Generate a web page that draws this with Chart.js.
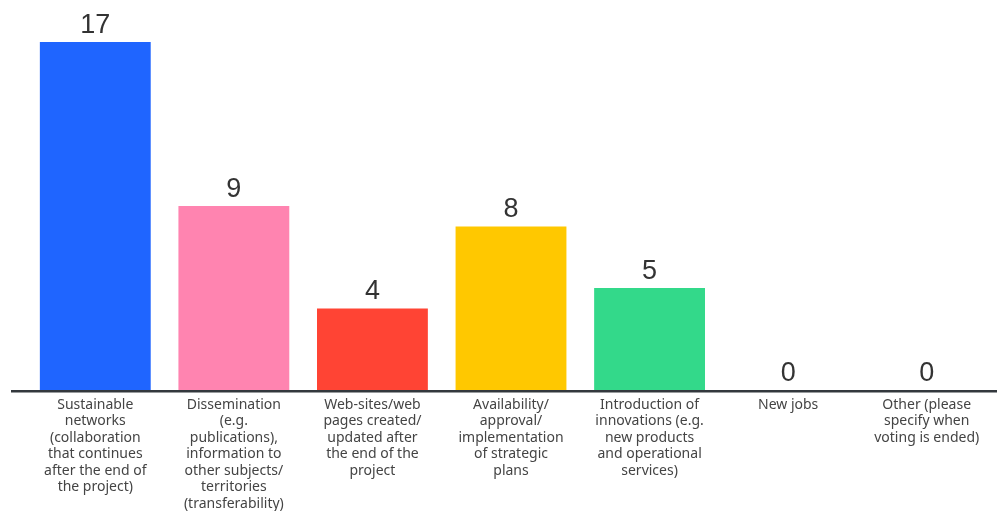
<!DOCTYPE html>
<html>
<head>
<meta charset="utf-8">
<style>
  html, body { margin: 0; padding: 0; background: #fff; }
  #wrap { width: 997px; height: 511px; }
</style>
<script src="https://cdn.jsdelivr.net/npm/chart.js@4/dist/chart.umd.min.js"></script>
</head>
<body>
<div id="wrap"><canvas id="resultsChart" width="997" height="511"></canvas></div>
<script>
// Category labels (already split the way they wrap in the picture)
const categories = [
    ['Sustainable', 'networks', '(collaboration', 'that continues', 'after the end of', 'the project)'],
    ['Dissemination', '(e.g.', 'publications),', 'information to', 'other subjects/', 'territories', '(transferability)'],
    ['Web-sites/web', 'pages created/', 'updated after', 'the end of the', 'project'],
    ['Availability/', 'approval/', 'implementation', 'of strategic', 'plans'],
    ['Introduction of', 'innovations (e.g.', 'new products', 'and operational', 'services)'],
    ['New jobs'],
    ['Other (please', 'specify when', 'voting is ended)']
];
const votes = [17, 9, 4, 8, 5, 0, 0];
const barColors = ['#1f65ff', '#ff84b0', '#ff4434', '#ffc800', '#33d98a', '#8c8c8c', '#8c8c8c'];

// value labels above every bar
const valueLabels = {
    id: 'valueLabels',
    afterDatasetsDraw(chart) {
        const { ctx } = chart;
        const meta = chart.getDatasetMeta(0);
        ctx.save();
        ctx.font = '400 27px "Liberation Sans", Arial, sans-serif';
        ctx.fillStyle = '#333333';
        ctx.textAlign = 'center';
        ctx.textBaseline = 'alphabetic';
        meta.data.forEach((bar, i) => {
            ctx.fillText(String(votes[i]), bar.x, bar.y - 9);
        });
        ctx.restore();
    }
};

// baseline runs a bit further left than the first bar slot
const baseline = {
    id: 'baseline',
    afterDatasetsDraw(chart) {
        const { ctx } = chart;
        const y = chart.scales.y.getPixelForValue(0);
        ctx.save();
        ctx.strokeStyle = '#33383d';
        ctx.lineWidth = 2.5;
        ctx.beginPath();
        ctx.moveTo(11, y + 1);
        ctx.lineTo(chart.width, y + 1);
        ctx.stroke();
        ctx.restore();
    }
};

const ctx = document.getElementById('resultsChart').getContext('2d');
new Chart(ctx, {
    type: 'bar',
    data: {
        labels: categories,
        datasets: [{
            data: votes,
            backgroundColor: barColors,
            borderWidth: 0,
            categoryPercentage: 0.8,
            barPercentage: 1.0
        }]
    },
    options: {
        responsive: false,
        animation: false,
        layout: { padding: { left: 26, right: 1, top: 0, bottom: -7 } },
        plugins: {
            legend: { display: false },
            tooltip: { enabled: false }
        },
        scales: {
            x: {
                grid: { display: false, drawTicks: false },
                border: { display: false },
                ticks: {
                    color: '#444444',
                    padding: 6,
                    maxRotation: 0,
                    autoSkip: false,
                    font: { family: '"Noto Sans", sans-serif', size: 14, lineHeight: 1.18 }
                }
            },
            y: {
                display: false,
                min: 0,
                max: 19.05
            }
        }
    },
    plugins: [valueLabels, baseline]
});
</script>
</body>
</html>
